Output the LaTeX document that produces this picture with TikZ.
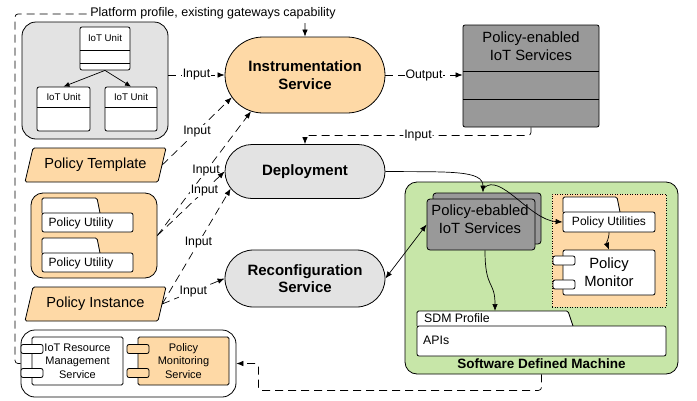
\documentclass[tikz,border=0pt]{standalone}
\usepackage{fontspec}
\setmainfont{Liberation Sans}
\usetikzlibrary{arrows.meta,shapes.misc,calc}
\definecolor{corange}{RGB}{254,217,166}
\definecolor{clgray}{RGB}{227,227,227}
\definecolor{cdgray}{RGB}{153,153,153}
\definecolor{cgreen}{RGB}{199,230,168}
\tikzset{
  bx/.style={draw=black, line width=0.8pt, inner sep=0pt, rectangle},
  lbl/.style={fill=white, inner sep=1pt, font=\fontsize{12.3}{13}\selectfont},
  dsh/.style={dash pattern=on 8pt off 5pt, line width=0.7pt},
  tip/.style={-{Latex[length=7pt,width=5.5pt]}},
  svc/.style={draw=black, line width=0.8pt, rounded rectangle, inner sep=0pt, minimum width=160pt, align=center, font=\fontsize{15}{17.5}\selectfont\bfseries},
  smallr/.style={bx, rounded corners=2pt, minimum width=22pt, minimum height=9pt},
}
\begin{document}
\begin{tikzpicture}[x=1pt,y=-1pt]
\useasboundingbox (0,0) rectangle (697,400);

% ---------- top-left IoT unit group
\node[bx, fill=clgray, rounded corners=14pt, minimum width=146pt, minimum height=117pt] (iotgrp) at (95,80.5) {};
\node[bx, fill=white, rounded corners=2pt, minimum width=50pt, minimum height=43pt] (u1) at (105,48.5) {};
\draw[line width=0.8pt] (80,50) -- (130,50) (80,63) -- (130,63);
\node[font=\fontsize{9.7}{11}\selectfont] (u1t) at (105,38.5) {IoT Unit};
\node[bx, fill=white, rounded corners=2pt, minimum width=53pt, minimum height=44pt] (u2) at (63.5,109) {};
\draw[line width=0.8pt] (37,107) -- (90,107);
\node[font=\fontsize{9.7}{11}\selectfont] (u2t) at (63.5,97) {IoT Unit};
\node[bx, fill=white, rounded corners=2pt, minimum width=52pt, minimum height=44pt] (u3) at (131,109) {};
\draw[line width=0.8pt] (105,107) -- (157,107);
\node[font=\fontsize{9.7}{11}\selectfont] (u3t) at (131,97) {IoT Unit};
\draw[line width=0.7pt, -{Latex[length=6pt,width=5pt]}] (u1.south) -- (u2.north);
\draw[line width=0.7pt, -{Latex[length=6pt,width=5pt]}] (u1.south) -- (u3.north);

% ---------- Policy Template
\filldraw[fill=corange, draw=black, line width=0.8pt, rounded corners=1.5pt] (25,182) -- (33,148) -- (166,148) -- (158,182) -- cycle;
\node[minimum width=133pt, minimum height=34pt, inner sep=0pt, font=\fontsize{14.6}{16}\selectfont] (pt) at (95.5,165) {Policy Template};

% ---------- Policy utility group
\node[bx, fill=corange, rounded corners=12pt, minimum width=126pt, minimum height=85pt] (pugrp) at (94,235.5) {};
\filldraw[fill=white, draw=black, line width=0.8pt, rounded corners=1.5pt] (42,213) -- (42,198) -- (97,198) -- (100,213);
\node[bx, fill=white, rounded corners=2pt, minimum width=91pt, minimum height=19pt] (pu1) at (87.5,222.5) {};
\node[anchor=west, inner sep=0pt, font=\fontsize{12}{13}\selectfont] (pu1t) at (48.5,223) {Policy Utility};
\filldraw[fill=white, draw=black, line width=0.8pt, rounded corners=1.5pt] (42,253) -- (42,238) -- (97,238) -- (100,253);
\node[bx, fill=white, rounded corners=2pt, minimum width=91pt, minimum height=19pt] (pu2) at (87.5,262.5) {};
\node[anchor=west, inner sep=0pt, font=\fontsize{12}{13}\selectfont] (pu2t) at (48.5,263) {Policy Utility};

% ---------- Policy Instance
\filldraw[fill=corange, draw=black, line width=0.8pt, rounded corners=1.5pt] (25,321) -- (33,287) -- (166,287) -- (158,321) -- cycle;
\node[minimum width=133pt, minimum height=34pt, inner sep=0pt, font=\fontsize{14.6}{16}\selectfont] (pi) at (95.5,304) {Policy Instance};

% ---------- bottom-left group
\node[bx, fill=white, rounded corners=14pt, minimum width=215pt, minimum height=67pt] (blgrp) at (128.5,363.5) {};
\node[bx, fill=white, rounded corners=1.5pt, minimum width=91pt, minimum height=48pt, align=center, font=\fontsize{11}{13.5}\selectfont] (irm) at (77.5,361) {IoT Resource\\Management\\Service};
\node[smallr, fill=white] (irma) at (32,349) {};
\node[smallr, fill=white] (irmb) at (32,373) {};
\node[bx, fill=corange, rounded corners=1.5pt, minimum width=91pt, minimum height=48pt, align=center, font=\fontsize{11}{13.5}\selectfont] (pms) at (183.5,361) {Policy\\Monitoring\\Service};
\node[smallr, fill=corange] (pmsa) at (138,349) {};
\node[smallr, fill=corange] (pmsb) at (138,373) {};

% ---------- services
\node[svc, fill=corange, minimum height=76pt] (instr) at (305,75) {Instrumentation\\Service};
\node[svc, fill=clgray, minimum height=54pt] (deploy) at (305,171.5) {Deployment};
\node[svc, fill=clgray, minimum height=57pt] (reconf) at (305,278.5) {Reconfiguration\\Service};

% ---------- Policy-enabled IoT services (top right)
\node[bx, fill=cdgray, rounded corners=2pt, minimum width=136pt, minimum height=102pt] (pe) at (531,76) {};
\draw[line width=0.8pt] (463,71) -- (599,71) (463,99) -- (599,99);
\node[align=center, font=\fontsize{14.8}{18}\selectfont] (pet) at (531,46) {Policy-enabled\\IoT Services};

% ---------- Software Defined Machine
\node[bx, fill=cgreen, rounded corners=12pt, minimum width=273pt, minimum height=192pt] (sdm) at (541.5,278) {};
\node[font=\fontsize{13.5}{15}\selectfont\bfseries] (sdmt) at (541.5,364) {Software Defined Machine};
\node[bx, fill=cdgray, rounded corners=3pt, minimum width=108pt, minimum height=51pt] (pesb) at (487,218.5) {};
\node[bx, fill=cdgray, rounded corners=3pt, minimum width=108pt, minimum height=51pt] (pes) at (481,224.5) {};
\node[align=center, font=\fontsize{14.8}{18}\selectfont] (pest) at (480,219) {Policy-ebabled\\IoT Services};
\node[draw=black, line width=0.8pt, dash pattern=on 1pt off 1.5pt, fill=corange, minimum width=114pt, minimum height=113pt, inner sep=0pt] (dotr) at (609,250.5) {};
\filldraw[fill=white, draw=black, line width=0.8pt, rounded corners=1.5pt] (563,212) -- (563,197) -- (617,197) -- (620,212);
\node[bx, fill=white, rounded corners=2pt, minimum width=92pt, minimum height=20pt, font=\fontsize{12}{13}\selectfont] (pu) at (609,222) {Policy Utilities};
\node[bx, fill=white, rounded corners=2pt, minimum width=92pt, minimum height=45pt, align=center, font=\fontsize{14.8}{18}\selectfont] (pm) at (609,272.5) {Policy\\Monitor};
\node[smallr, fill=white] (pma) at (564,260.5) {};
\node[smallr, fill=white] (pmb) at (564,284.5) {};
\filldraw[fill=white, draw=black, line width=0.8pt, rounded corners=1.5pt] (417,326) -- (417,311) -- (568,311) -- (573,326);
\coordinate (sdmtab) at (495,311);
\node[anchor=west, inner sep=0pt, font=\fontsize{12.3}{13}\selectfont] (sdmpt) at (424,318.5) {SDM Profile};
\node[bx, fill=white, rounded corners=2pt, minimum width=249pt, minimum height=30pt] (apis) at (541.5,341) {};
\node[anchor=west, inner sep=0pt, font=\fontsize{12.3}{13}\selectfont] (apist) at (423,340) {APIs};

% ---------- dashed input connectors
\draw[dsh, tip] (iotgrp.east |- instr.west) -- node[lbl] {Input} (instr.west);
\draw[dsh, tip] (pt.east) -- node[lbl, pos=0.5] {Input} (instr.197);
\draw[dsh, tip] (pugrp.east) -- node[lbl, pos=0.52] {Input} (instr.214);
\draw[dsh, tip] (pugrp.east) -- node[lbl, pos=0.7] {Input} (deploy.west);
\draw[dsh, tip] (pi.east) -- node[lbl, pos=0.53] {Input} (deploy.193);
\draw[dsh, tip] (pi.east) -- node[lbl, pos=0.5] {Input} (reconf.west);
\draw[dsh, tip] (instr.east) -- node[lbl] {Output} (pe.west |- instr.east);
\draw[dsh, tip, rounded corners=3pt] (pe.south) -- ++(0,8) -| node[lbl, pos=0.25] {Input} (deploy.north);
\draw[dsh, tip, rounded corners=3pt] (blgrp.west) -| (15,14) -| (instr.north);
\node[fill=white, inner sep=1pt, font=\fontsize{12.5}{13}\selectfont] (pplbl) at (213,13) {Platform profile, existing gateways capability};
\draw[dsh, tip, rounded corners=3pt] (sdm.south) -- ++(0,16) -| ($(blgrp.east)+(22,0)$) -- (blgrp.east);

% ---------- solid connectors
\draw[line width=0.7pt, tip] (deploy.east) .. controls (450,172) and (483,170) .. ($(pesb.north)+(-4,0)$);
\coordinate (br) at (484,188);
\draw[line width=0.7pt, tip] (br) .. controls (500,172) and (530,220) .. (pu.west);
\draw[line width=0.7pt, {Latex[length=7pt,width=5.5pt]}-{Latex[length=7pt,width=5.5pt]}] (pes.west) -- (reconf.east);
\draw[line width=0.7pt, tip] ($(pes.south)+(4,0)$) .. controls (485,290) and (495,280) .. (sdmtab);
\draw[line width=0.7pt, tip] (pu.south) .. controls (609,240) and (606,242) .. (pm.north);
\end{tikzpicture}
\end{document}
